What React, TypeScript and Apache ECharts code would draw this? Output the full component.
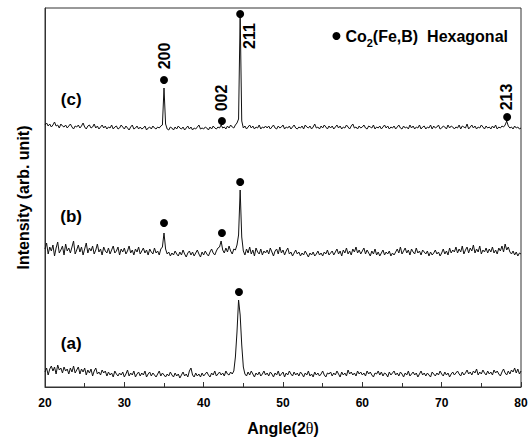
import React, { useEffect, useRef } from "react";
import * as echarts from "echarts";

// sampling grid of the scans (2θ, degrees)
const START_ANGLE = 20;
const STEP = 0.2;

// trace (c) intensities (arb. units, stacked offset included)
const traceC = [
  262,264,261,263,260,262,265,261,262,259,263,261,260,262,259,261,263,260,258,261,
  260,262,259,261,264,260,258,261,262,259,260,263,259,261,258,260,262,259,261,258,
  260,259,262,258,260,261,258,259,262,260,258,261,259,257,260,262,258,259,261,258,
  260,258,259,261,257,259,260,258,261,259,258,260,259,261,262,299,263,258,257,260,
  259,257,260,258,261,259,258,260,257,259,261,258,260,257,259,258,260,262,258,259,
  258,260,259,257,260,258,261,259,258,260,259,262,259,260,258,261,259,262,260,259,
  262,264,268,373,266,259,261,258,260,262,259,261,258,260,259,262,258,260,259,261,
  259,261,258,260,262,259,258,261,259,260,262,258,260,259,261,258,260,262,259,258,
  260,259,261,258,262,260,259,261,258,260,263,259,260,258,261,259,262,260,258,261,
  259,261,258,260,262,259,261,258,260,259,262,260,258,261,263,259,260,258,261,259,
  260,262,259,258,261,260,259,262,258,260,259,261,258,260,262,259,261,258,260,259,
  261,258,260,262,259,258,261,259,260,258,262,259,261,258,260,259,262,258,260,261,
  258,260,259,262,258,261,259,260,262,258,259,261,260,258,262,259,261,260,258,260,
  259,262,258,261,260,259,263,258,260,262,259,261,258,260,259,262,260,258,261,259,
  260,258,261,259,262,258,260,259,261,260,262,266,261,259,260,258,261,259,260,258,
  259,
];

// trace (b)
const traceB = [
  138,144,133,140,136,142,131,139,145,134,137,141,132,143,136,139,134,140,146,133,
  137,142,135,140,132,138,144,134,139,136,141,133,137,143,135,138,132,140,136,134,
  139,133,137,141,134,136,140,132,138,135,139,133,136,141,134,137,132,138,135,140,
  133,136,139,134,137,132,138,135,133,139,134,136,132,138,140,154,138,133,135,131,
  134,132,136,133,131,135,132,137,133,130,134,136,132,135,131,134,137,133,130,135,
  132,136,133,131,135,138,134,132,136,139,140,146,137,134,139,135,141,136,133,138,
  137,142,152,197,150,136,132,138,134,140,133,137,131,139,135,133,138,132,136,134,
  137,133,139,135,131,136,138,133,140,134,137,132,136,139,133,135,131,134,137,133,
  135,131,134,132,136,133,130,134,132,135,131,133,136,132,134,131,135,133,137,132,
  134,136,132,135,138,133,136,131,137,134,139,133,136,132,138,135,140,134,137,133,
  136,139,133,137,134,131,136,133,138,132,135,131,134,137,132,135,133,136,131,134,
  132,135,138,134,140,133,136,139,134,137,132,138,135,133,139,134,136,132,137,135,
  133,136,131,135,132,134,137,133,135,131,134,138,133,136,132,139,134,137,135,140,
  134,138,135,141,133,137,140,134,139,136,142,134,138,135,141,133,137,135,139,134,
  138,135,140,134,137,133,139,136,141,135,143,137,140,135,133,136,132,135,131,134,
  133,
];

// trace (a)
const traceA = [
  15,19,12,18,21,16,20,13,22,17,19,14,20,16,18,13,19,15,21,14,
  17,20,13,18,15,19,12,17,14,18,11,16,19,13,15,12,17,14,16,11,
  15,12,14,10,16,13,11,14,12,15,10,13,17,11,14,12,16,10,13,15,
  11,14,12,16,10,13,15,11,14,12,10,13,16,11,14,12,10,13,11,15,
  12,10,14,11,13,9,12,15,11,13,10,16,19,12,10,14,11,13,10,14,
  11,13,15,12,10,14,12,16,11,13,15,12,14,11,16,13,12,15,13,16,
  30,55,87,72,42,20,13,11,15,12,16,13,10,14,12,15,11,13,16,12,
  14,11,15,13,10,14,12,16,11,13,15,10,14,12,16,13,11,15,12,14,
  11,15,13,10,14,12,16,11,13,10,15,12,14,11,13,16,12,10,14,13,
  15,11,14,12,16,13,10,15,12,14,11,17,13,15,12,14,11,16,13,15,
  12,14,11,16,13,15,12,10,14,13,16,12,15,11,14,13,10,15,12,14,
  16,12,14,11,15,13,10,14,12,16,11,13,15,12,14,10,13,16,12,14,
  11,14,12,10,15,13,11,14,12,16,13,11,15,12,14,10,13,15,12,14,
  16,13,11,15,12,14,17,13,15,12,16,14,18,12,15,13,17,14,12,16,
  13,15,12,17,14,16,13,11,15,18,14,12,16,13,17,15,19,14,18,13,
  16,
];

// Co2(Fe,B) hexagonal reflection markers [2θ, intensity]
const phaseMarkers: [number, number][] = [
  [35.0, 307], [42.3, 266], [44.6, 373], [78.25, 270],
  [35.0, 164], [42.3, 154], [44.6, 205],
  [44.45, 95],
];

// Miller index annotations [2θ, intensity, text]
const millerLabels: [number, number, string][] = [
  [35.0, 331, "200"],
  [42.3, 289, "002"],
  [45.75, 351, "211"],
  [78.2, 290, "213"],
];

// sample labels [2θ, intensity, text]
const sampleLabels: [number, number, string][] = [
  [23.3, 288, "(c)"],
  [23.3, 171, "(b)"],
  [23.3, 44, "(a)"],
];

const xTicks = { min: 20, max: 80, interval: 10 };

const FONT = "'Liberation Sans', Arial, Helvetica, sans-serif";
const INK = "#000";

function toPairs(vals: number[]): [number, number][] {
  return vals.map((v, i) => [START_ANGLE + i * STEP, v]);
}

export default function App() {
  const ref = useRef<HTMLDivElement>(null);

  useEffect(() => {
    if (!ref.current) return;
    document.body.style.margin = "0";
    const chart = echarts.init(ref.current, undefined, { renderer: "svg" });
    const lineSeries = (name: string, vals: number[]) => ({
      name,
      type: "line",
      data: toPairs(vals),
      showSymbol: false,
      symbol: "none",
      silent: true,
      lineStyle: { color: "#111", width: 1 },
      z: 2,
    });
    chart.setOption({
      animation: false,
      backgroundColor: "#fff",
      textStyle: { fontFamily: FONT },
      grid: {
        left: 45,
        right: 11,
        top: 8,
        bottom: 54,
        show: true,
        borderColor: "#333",
        borderWidth: 1,
        backgroundColor: "transparent",
      },
      legend: {
        data: [{ name: "phase", icon: "circle", itemStyle: { color: INK, opacity: 1 } }],
        right: 19,
        top: 23,
        itemWidth: 8,
        itemHeight: 8,
        formatter: () => "{n|Co}{s|2}{n|(Fe,B)  Hexagonal}",
        textStyle: {
          color: INK,
          fontFamily: FONT,
          fontWeight: "bold",
          fontSize: 16,
          rich: {
            n: { fontFamily: FONT, fontWeight: "bold", fontSize: 16, color: INK, lineHeight: 20, verticalAlign: "middle" },
            s: { fontFamily: FONT, fontWeight: "bold", fontSize: 11, color: INK, lineHeight: 20, verticalAlign: "bottom", padding: [0, 0, -2, 0] },
          },
        },
        selectedMode: false,
      },
      xAxis: {
        type: "value",
        min: xTicks.min,
        max: xTicks.max,
        interval: xTicks.interval,
        name: "Angle(2{t|θ})",
        nameLocation: "middle",
        nameGap: 33,
        nameTextStyle: {
          fontFamily: FONT,
          fontWeight: "bold",
          fontSize: 16,
          color: INK,
          rich: {
            t: { fontFamily: "'Liberation Serif', 'Times New Roman', serif", fontSize: 16, color: INK, fontWeight: "normal" },
          },
        },
        axisLine: { show: true, lineStyle: { color: "#333", width: 1 } },
        axisTick: { show: true, inside: true, length: 5, lineStyle: { color: "#333" } },
        minorTick: { show: true, splitNumber: 2, length: 4, lineStyle: { color: "#333" } },
        splitLine: { show: false },
        axisLabel: {
          color: INK,
          fontFamily: FONT,
          fontWeight: "bold",
          fontSize: 12,
          margin: 10,
        },
      },
      yAxis: {
        type: "value",
        min: 0,
        max: 379,
        name: "Intensity (arb. unit)",
        nameLocation: "middle",
        nameGap: 14,
        nameTextStyle: {
          fontFamily: FONT,
          fontWeight: "bold",
          fontSize: 16,
          color: INK,
        },
        axisLine: { show: true, lineStyle: { color: "#333", width: 1 } },
        axisTick: { show: false },
        axisLabel: { show: false },
        splitLine: { show: false },
      },
      series: [
        lineSeries("c", traceC),
        lineSeries("b", traceB),
        lineSeries("a", traceA),
        {
          name: "phase",
          type: "scatter",
          data: phaseMarkers,
          symbol: "circle",
          symbolSize: 8,
          itemStyle: { color: INK, opacity: 1 },
          silent: true,
          z: 3,
        },
        {
          name: "miller",
          type: "scatter",
          data: millerLabels,
          symbolSize: 0,
          silent: true,
          itemStyle: { opacity: 1 },
          label: {
            show: true,
            position: "inside",
            rotate: 90,
            formatter: (p: any) => p.data[2],
            fontFamily: FONT,
            fontWeight: "bold",
            fontSize: 16,
            color: INK,
            textBorderWidth: 0,
          },
          z: 4,
        },
        {
          name: "samples",
          type: "scatter",
          data: sampleLabels,
          symbolSize: 0,
          silent: true,
          itemStyle: { opacity: 1 },
          label: {
            show: true,
            position: "inside",
            formatter: (p: any) => p.data[2],
            fontFamily: FONT,
            fontWeight: "bold",
            fontSize: 17,
            color: INK,
            textBorderWidth: 0,
          },
          z: 4,
        },
      ],
    });
    return () => chart.dispose();
  }, []);

  return <div ref={ref} style={{ width: 532, height: 441 }} />;
}
